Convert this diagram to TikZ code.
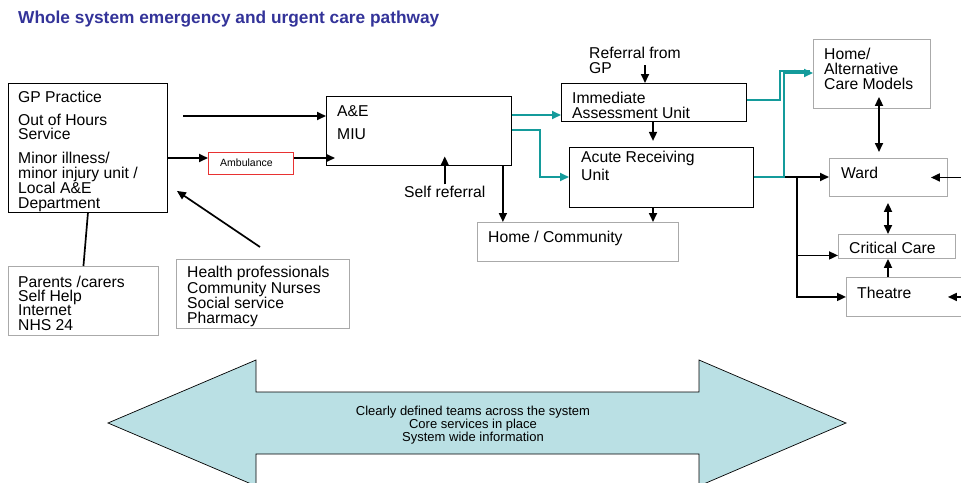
\documentclass[tikz,border=0pt]{standalone}
\usepackage{fontspec}
\setmainfont{Liberation Sans}
\usetikzlibrary{arrows.meta,calc}
\definecolor{tealline}{RGB}{20,155,155}
\definecolor{boxgray}{RGB}{170,170,170}
\definecolor{titleblue}{RGB}{51,51,153}
\definecolor{bandfill}{RGB}{186,224,228}
\definecolor{ambred}{RGB}{232,50,50}
\begin{document}
\begin{tikzpicture}[x=1pt,y=-1pt,
  blackbox/.style={draw=black, line width=0.9pt, inner sep=0, anchor=north west},
  graybox/.style={draw=boxgray, line width=0.9pt, inner sep=0, anchor=north west},
  redbox/.style={draw=ambred, line width=0.9pt, inner sep=0, anchor=north west},
  txt/.style={inner sep=0, anchor=base west, align=left, font=\fontsize{15.7}{14.3}\selectfont},
  arr/.style={line width=1.7pt, -{Triangle[length=9pt,width=8pt]}},
  darr/.style={line width=1.7pt, {Triangle[length=9pt,width=8pt]}-{Triangle[length=9pt,width=8pt]}},
  plainline/.style={line width=1.7pt},
  tarr/.style={draw=tealline, line width=1.7pt, -{Triangle[length=9pt,width=8pt]}},
  tline/.style={draw=tealline, line width=1.7pt},
]
\useasboundingbox (0,0) rectangle (961,482);
\clip (0,0) rectangle (961,482);

% title
\node[inner sep=0, anchor=base west, text=titleblue, font=\fontsize{17.3}{20}\selectfont\bfseries] (title) at (18,23) {Whole system emergency and urgent care pathway};

% boxes
\node[blackbox, minimum width=159, minimum height=129] (gp) at (8,83) {};
\node[graybox, minimum width=150, minimum height=69] (parents) at (8,266) {};
\node[graybox, minimum width=173, minimum height=69] (health) at (176,259) {};
\node[redbox, minimum width=85, minimum height=22] (amb) at (208,152) {};
\node[blackbox, minimum width=185, minimum height=69] (ae) at (326,96) {};
\node[graybox, minimum width=201, minimum height=39] (home) at (477,222) {};
\node[blackbox, minimum width=185, minimum height=38] (iau) at (561,83) {};
\node[blackbox, minimum width=184, minimum height=60] (aru) at (569,147) {};
\node[graybox, minimum width=117, minimum height=69] (alt) at (813,39) {};
\node[graybox, minimum width=118, minimum height=38] (ward) at (829,158) {};
\node[graybox, minimum width=117, minimum height=24] (crit) at (838,234) {};
\node[graybox, minimum width=129, minimum height=39] (theatre) at (846,277) {};

% texts (anchor = baseline of the last line)
\node[txt] (gptxt) at (18,208) {GP Practice\\[8.7pt]Out of Hours\\Service\\[9.7pt]Minor illness/\\minor injury unit /\\Local A\&E\\Department};
\node[txt] (parentstxt) at (18,330) {Parents /carers\\Self Help\\Internet\\NHS 24};
\node[txt] (healthtxt) at (187,323) {Health professionals\\Community Nurses\\Social service\\Pharmacy};
\node[inner sep=0, anchor=base west, font=\fontsize{10.5}{12}\selectfont] (ambtxt) at (220,166) {Ambulance};
\node[txt] (aetxt) at (337,139) {A\&E\\[8.7pt]MIU};
\node[txt] (selfref) at (404,197) {Self referral};
\node[txt] (hometxt) at (488,242) {Home / Community};
\node[txt] (refgp) at (589,73) {Referral from\\[0.7pt]GP};
\node[txt] (iautxt) at (572,118) {Immediate\\Assessment Unit};
\node[txt] (arutxt) at (581,180) {Acute Receiving\\[1.7pt]Unit};
\node[txt] (alttxt) at (824,89) {Home/\\[0.7pt]Alternative\\[0.7pt]Care Models};
\node[txt] (wardtxt) at (841,178) {Ward};
\node[txt] (crittxt) at (849,253) {Critical Care};
\node[txt] (theatretxt) at (857,298) {Theatre};

% coordinates
\coordinate (gpout) at (183,116);
\coordinate (g1) at ([yshift=-75]gp.north east);
\coordinate (h0) at (260,247);
\coordinate (h1) at ([xshift=-9]ae.south east);
\coordinate (t1) at ([yshift=-19]ae.north east);
\coordinate (t2) at ([yshift=-34]ae.north east);
\coordinate (t2e) at ([yshift=-30]aru.north west);
\coordinate (r1) at (645,65);
\coordinate (i1) at (653,0);
\coordinate (a1) at ([yshift=-30]aru.north east);
\coordinate (b1) at ([xshift=43]a1);
\coordinate (i2) at ([yshift=-17]iau.north east);
\coordinate (w1) at (879,0);
\coordinate (w2) at (888,0);
\coordinate (e1) at (970,0);

% black connectors
\draw[arr] (gpout) -- ([yshift=-20]ae.north west);
\draw[arr] (g1) -- (g1 -| amb.west);
\draw[arr] (g1 -| amb.east) -- ($(g1 -| ae.west)+(9,0)$);
\draw[plainline] (gp.south) -- (parents.north);
\draw[arr] (h0) -- ($(gp.south east)+(9,-22)$);
\draw[arr] ([yshift=1]selfref.north) -- ++(0,-28);
\draw[arr] (h1) -- (h1 |- home.north);
\draw[arr] (r1) -- (r1 |- iau.north);
\draw[arr] (i1 |- iau.south) -- ++(0,19);
\draw[arr] (i1 |- aru.south) -- (i1 |- home.north);
\draw[arr] (a1) -- (a1 -| ward.west);
\draw[arr] (b1) |- ([yshift=-9]crit.west);
\draw[arr] (b1) |- (theatre.west);
\draw[darr] ($(w1 |- alt.south)+(0,-12)$) -- ($(w1 |- ward.north)+(0,-6)$);
\draw[darr] ($(w2 |- ward.south)+(0,6)$) -- (w2 |- crit.north);
\draw[arr] (w2 |- theatre.north) -- (w2 |- crit.south);
\draw[arr] (ward.east -| e1) -- ([xshift=-17]ward.east);
\draw[arr] (e1 |- theatre.west) -- (ward.east |- theatre.west);

% teal connectors
\draw[tarr] (t1) -- (t1 -| iau.west);
\draw[tarr] (t2) -- ++(28,0) |- (t2e);
\draw[tline] (i2) -- ++(33,0) |- ($(alt.north west)+(-3,32)$);
\draw[tarr] (a1) -- ++(30,0) |- ([yshift=-34]alt.north west);

% bottom band arrow
\draw[fill=bandfill, draw=black, line width=0.7pt]
  (108,423) -- (256,360) -- (256,392) -- (699,392) -- (699,360) -- (846,423)
  -- (699,486) -- (699,454) -- (256,454) -- (256,486) -- cycle;
\node[inner sep=0, align=center, font=\fontsize{13}{11.3}\selectfont] (band) at (473,425) {Clearly defined teams across the system\\Core services in place\\System wide information};
\end{tikzpicture}
\end{document}
